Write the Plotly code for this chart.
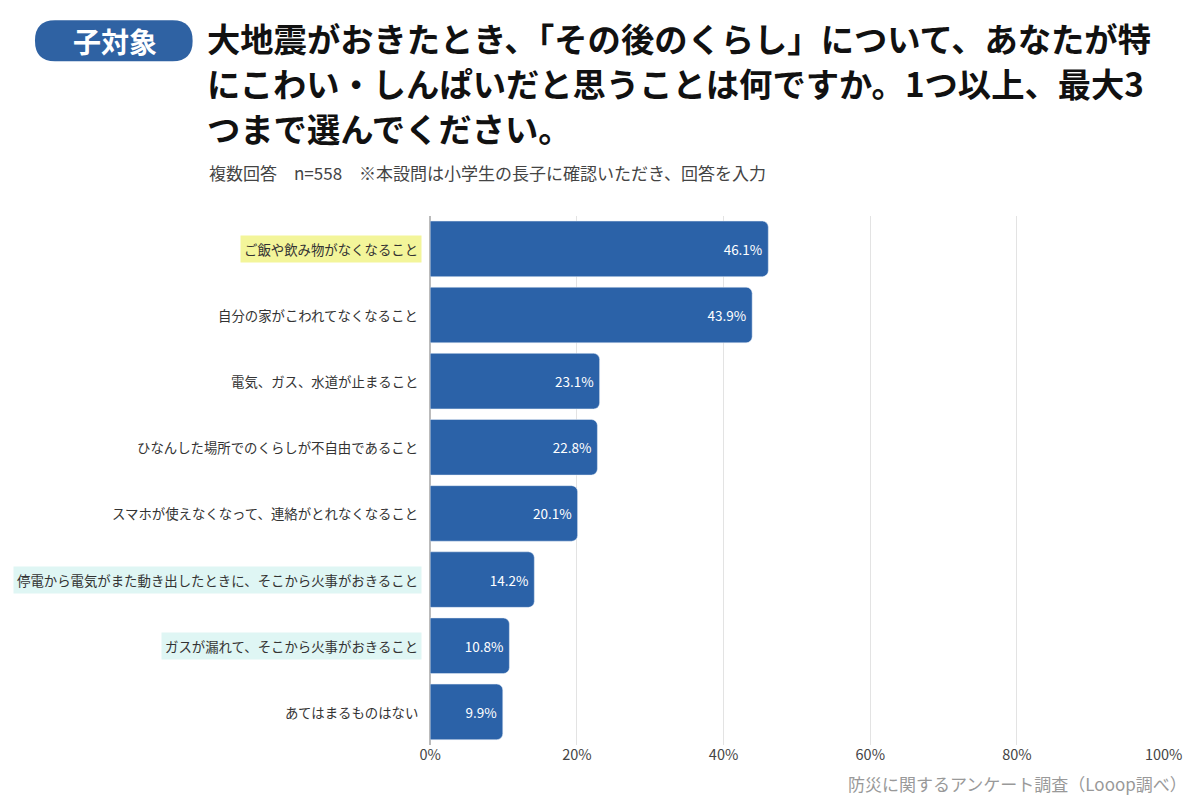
import plotly.graph_objects as go

W, H = 1200, 800

categories = [
    "ご飯や飲み物がなくなること",
    "自分の家がこわれてなくなること",
    "電気、ガス、水道が止まること",
    "ひなんした場所でのくらしが不自由であること",
    "スマホが使えなくなって、連絡がとれなくなること",
    "停電から電気がまた動き出したときに、そこから火事がおきること",
    "ガスが漏れて、そこから火事がおきること",
    "あてはまるものはない",
]
values = [46.1, 43.9, 23.1, 22.8, 20.1, 14.2, 10.8, 9.9]
highlights = ["#f3f59a", None, None, None, None, "#dff6f4", "#dff6f4", None]
tick_vals = [0, 20, 40, 60, 80, 100]
tick_text = ["0%", "20%", "40%", "60%", "80%", "100%"]

FONT = "Noto Sans CJK JP"
BAR = "#2b62a8"

# the page is shown slightly shrunk and offset; map target pixels back
S, OFF = 0.977, 18


def px(x):
    return (x - OFF) / S / W


def py(y):
    return 1 - (y - OFF) / S / H


fig = go.Figure(go.Bar(
    x=values,
    y=categories,
    orientation="h",
    marker=dict(color=BAR, cornerradius=6),
    text=[f"{v}%" for v in values],
    textposition="inside",
    insidetextanchor="end",
    textfont=dict(color="white", size=13.5, family=FONT),
    hoverinfo="skip",
))

# category labels as annotations so some can be highlighted
annotations = []
for cat, hl in zip(categories, highlights):
    annotations.append(dict(
        x=px(422), xref="paper", y=cat, yref="y", text=cat,
        xanchor="right", showarrow=False,
        font=dict(size=13.4, color="#333", family=FONT),
        bgcolor=hl if hl else "rgba(0,0,0,0)", borderpad=3,
    ))

title_lines = [
    "大地震がおきたとき、「その後のくらし」について、あなたが特",
    "にこわい・しんぱいだと思うことは何ですか。1つ以上、最大3",
    "つまで選んでください。",
]
for i, line in enumerate(title_lines):
    annotations.append(dict(
        x=px(204), y=py(47 + i * 44), xref="paper", yref="paper", text=f"<b>{line}</b>",
        xanchor="left", yanchor="middle", showarrow=False,
        font=dict(size=33.3, color="#111", family=FONT),
    ))
annotations += [
    dict(x=px(206), y=py(179), xref="paper", yref="paper",
         text="複数回答　n=558　※本設問は小学生の長子に確認いただき、回答を入力",
         xanchor="left", yanchor="middle", showarrow=False,
         font=dict(size=17, color="#444", family=FONT)),
    dict(x=px(114), y=py(50), xref="paper", yref="paper", text="<b>子対象</b>",
         xanchor="center", yanchor="middle", showarrow=False,
         font=dict(size=28, color="white", family=FONT)),
    dict(x=px(1190), y=py(776), xref="paper", yref="paper",
         text="防災に関するアンケート調査（Looop調べ）",
         xanchor="right", yanchor="middle", showarrow=False,
         font=dict(size=17, color="#999", family=FONT)),
]

# rounded badge
x0, x1, y0, y1 = px(34), px(192), py(30), py(70)
rx, ym = px(54) - px(34), py(50)
badge = (f"M {x0+rx},{y0} L {x1-rx},{y0} Q {x1},{y0} {x1},{ym} Q {x1},{y1} {x1-rx},{y1} "
         f"L {x0+rx},{y1} Q {x0},{y1} {x0},{ym} Q {x0},{y0} {x0+rx},{y0} Z")

fig.update_layout(
    width=W, height=H,
    margin=dict(l=0, r=0, t=0, b=0),
    plot_bgcolor="white", paper_bgcolor="white",
    showlegend=False,
    bargap=0.16,
    xaxis=dict(domain=[px(430), px(1165)], range=[0, 100], tickvals=tick_vals, ticktext=tick_text,
               showgrid=True, gridcolor="#e3e3e3", zeroline=True, zerolinecolor="#bbb",
               tickfont=dict(size=14.5, color="#444", family=FONT), fixedrange=True),
    yaxis=dict(domain=[py(738), py(221)], autorange="reversed", showticklabels=False,
               showgrid=False, fixedrange=True),
    annotations=annotations,
    shapes=[dict(type="path", path=badge, xref="paper", yref="paper",
                 fillcolor="#2f62a3", line=dict(width=0), layer="below")],
)

fig.write_html("out.html")
